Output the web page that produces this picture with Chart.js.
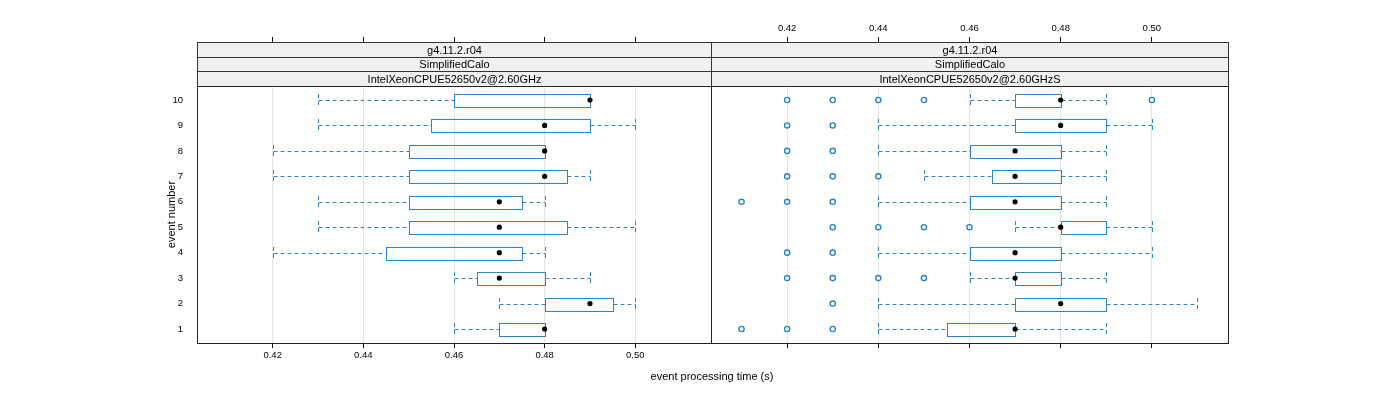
<!DOCTYPE html>
<html>
<head>
<meta charset="utf-8">
<script src="https://cdn.jsdelivr.net/npm/chart.js@4.4.1/dist/chart.umd.min.js"></script>
<style>
  body { margin: 0; background: #fff; }
  #wrap { position: relative; width: 1400px; height: 400px; background: #fff; }
  #wrap canvas { position: absolute; left: 0; top: 0; }
  #xtitle {
    position: absolute; left: 562px; width: 300px; top: 370px;
    text-align: center; font: 11px "Liberation Sans", Arial, sans-serif; color: #000;
  }
</style>
</head>
<body>
<div id="wrap">
  <canvas id="leftPanel" width="1400" height="400"></canvas>
  <canvas id="rightPanel" width="1400" height="400"></canvas>
  <div id="xtitle">event processing time (s)</div>
</div>
<script>
// ---------------- data ----------------
const events = [1, 2, 3, 4, 5, 6, 7, 8, 9, 10];
const xTicks = [0.42, 0.44, 0.46, 0.48, 0.50];

// panel 1: IntelXeonCPUE52650v2@2.60GHz
const lowA  = [0.46, 0.47, 0.46, 0.42, 0.43, 0.43, 0.42, 0.42, 0.43, 0.43];
const q1A   = [0.47, 0.48, 0.465, 0.445, 0.45, 0.45, 0.45, 0.45, 0.455, 0.46];
const medA  = [0.48, 0.49, 0.47, 0.47, 0.47, 0.47, 0.48, 0.48, 0.48, 0.49];
const q3A   = [0.48, 0.495, 0.48, 0.475, 0.485, 0.475, 0.485, 0.48, 0.49, 0.49];
const highA = [0.48, 0.50, 0.49, 0.48, 0.50, 0.48, 0.49, 0.48, 0.50, 0.49];
const outA  = [[], [], [], [], [], [], [], [], [], []];

// panel 2: IntelXeonCPUE52650v2@2.60GHzS
const lowB  = [0.44, 0.44, 0.46, 0.44, 0.47, 0.44, 0.45, 0.44, 0.44, 0.46];
const q1B   = [0.455, 0.47, 0.47, 0.46, 0.48, 0.46, 0.465, 0.46, 0.47, 0.47];
const medB  = [0.47, 0.48, 0.47, 0.47, 0.48, 0.47, 0.47, 0.47, 0.48, 0.48];
const q3B   = [0.47, 0.49, 0.48, 0.48, 0.49, 0.48, 0.48, 0.48, 0.49, 0.48];
const highB = [0.49, 0.51, 0.49, 0.50, 0.50, 0.49, 0.49, 0.49, 0.50, 0.49];
const outB  = [
  [0.41, 0.42, 0.43],
  [0.43],
  [0.42, 0.43, 0.44, 0.45],
  [0.42, 0.43],
  [0.43, 0.44, 0.45, 0.46],
  [0.41, 0.42, 0.43],
  [0.42, 0.43, 0.44],
  [0.42, 0.43],
  [0.42, 0.43],
  [0.42, 0.43, 0.44, 0.45, 0.50]
];

const stripA = ['g4.11.2.r04', 'SimplifiedCalo', 'IntelXeonCPUE52650v2@2.60GHz'];
const stripB = ['g4.11.2.r04', 'SimplifiedCalo', 'IntelXeonCPUE52650v2@2.60GHzS'];

const X_MIN = 0.4033, X_MAX = 0.5167;
const Y_MIN = 0.45, Y_MAX = 10.55;
const BLUE = '#2a86c4';
const FONT = '"Liberation Sans", Arial, sans-serif';

Chart.defaults.font.family = FONT;
Chart.defaults.color = '#000';

// ---------------- plugins ----------------
const boxPlugin = {
  id: 'boxes',
  beforeDatasetsDraw(chart, args, opts) {
    const { ctx, chartArea } = chart;
    const xs = chart.scales.x, ys = chart.scales.y;
    const h = Math.abs(ys.getPixelForValue(1) - ys.getPixelForValue(0)) * 0.5;
    const px = v => Math.round(xs.getPixelForValue(v)) + 0.5;
    ctx.save();
    ctx.beginPath();
    ctx.rect(chartArea.left, chartArea.top, chartArea.width, chartArea.height);
    ctx.clip();
    ctx.strokeStyle = BLUE;
    ctx.lineWidth = 1;
    opts.rows.forEach((row, i) => {
      const y = Math.round(ys.getPixelForValue(row)) + 0.5;
      const top = Math.round(y - h / 2), bot = Math.round(y + h / 2);
      const lo = px(opts.low[i]), a = px(opts.q1[i]), b = px(opts.q3[i]), hi = px(opts.high[i]);
      // whiskers
      ctx.setLineDash([4, 3]);
      ctx.beginPath();
      if (lo < a) {
        ctx.moveTo(lo, y); ctx.lineTo(a, y);
        ctx.moveTo(lo, top); ctx.lineTo(lo, bot);
      }
      if (hi > b) {
        ctx.moveTo(b, y); ctx.lineTo(hi, y);
        ctx.moveTo(hi, top); ctx.lineTo(hi, bot);
      }
      ctx.stroke();
      // box
      ctx.setLineDash([]);
      ctx.strokeRect(a, top + 0.5, b - a, bot - top);
    });
    ctx.restore();
  },
  afterDraw(chart, args, opts) {
    const { ctx, chartArea } = chart;
    const l = Math.round(chartArea.left) + 0.5, r = Math.round(chartArea.right) + 0.5;
    const t = Math.round(chartArea.top) + 0.5, b = Math.round(chartArea.bottom) + 0.5;
    ctx.save();
    // strips
    const sTop = 42, sH = (86 - 42) / 3;
    opts.strips.forEach((txt, k) => {
      const y0 = Math.round(sTop + k * sH) + 0.5;
      const y1 = Math.round(sTop + (k + 1) * sH) + 0.5;
      ctx.fillStyle = '#f0f0f0';
      ctx.fillRect(l, y0, r - l, y1 - y0);
      ctx.strokeStyle = '#333';
      ctx.lineWidth = 1;
      ctx.strokeRect(l, y0, r - l, y1 - y0);
      ctx.fillStyle = '#000';
      ctx.font = '11px ' + FONT;
      ctx.textAlign = 'center';
      ctx.textBaseline = 'middle';
      ctx.fillText(txt, (l + r) / 2, (y0 + y1) / 2 + 0.5);
    });
    // panel frame
    ctx.strokeStyle = '#222';
    ctx.strokeRect(l, t, r - l, b - t);
    ctx.restore();
  }
};

function setTicks(list) {
  return scale => { scale.ticks = list.map(v => ({ value: v })); };
}

function makePanel(canvasId, d) {
  const medPts = events.map((e, i) => ({ x: d.med[i], y: e }));
  const outPts = [];
  events.forEach((e, i) => d.out[i].forEach(v => outPts.push({ x: v, y: e })));

  return new Chart(document.getElementById(canvasId), {
    type: 'scatter',
    data: {
      datasets: [
        {
          label: 'outliers',
          data: outPts,
          pointRadius: 2.6,
          pointBackgroundColor: 'rgba(255,255,255,0)',
          pointBorderColor: BLUE,
          pointBorderWidth: 1.4
        },
        {
          label: 'median',
          data: medPts,
          pointRadius: 2.6,
          pointBackgroundColor: '#000',
          pointBorderWidth: 0
        }
      ]
    },
    options: {
      responsive: false,
      animation: false,
      devicePixelRatio: 1,
      layout: { padding: d.padding },
      plugins: {
        legend: { display: false },
        tooltip: { enabled: false },
        boxes: {
          rows: events, low: d.low, q1: d.q1, q3: d.q3, high: d.high,
          strips: d.strips
        }
      },
      scales: {
        x: {
          type: 'linear', position: 'bottom',
          min: X_MIN, max: X_MAX,
          afterBuildTicks: setTicks(xTicks),
          afterFit: s => { s.height = 57; },
          grid: { color: '#e6e6e6', tickColor: '#111', tickLength: 5 },
          border: { display: false },
          ticks: {
            display: d.bottomLabels, padding: 2,
            font: { size: 9.5 },
            callback: v => v.toFixed(2)
          }
        },
        x2: {
          type: 'linear', position: 'top',
          min: X_MIN, max: X_MAX,
          afterBuildTicks: setTicks(xTicks),
          afterFit: s => { s.height = 66; },
          grid: { drawOnChartArea: false, tickColor: '#111', tickLength: 49 },
          border: { display: false },
          ticks: {
            display: d.topLabels, padding: 3,
            font: { size: 9.5 },
            callback: v => v.toFixed(2)
          }
        },
        y: {
          type: 'linear',
          display: d.yAxis,
          min: Y_MIN, max: Y_MAX,
          afterBuildTicks: setTicks(events),
          afterFit: s => { s.width = d.yAxis ? 36 : 0; },
          grid: { display: false },
          border: { display: false },
          ticks: { padding: 6, font: { size: 9.5 } },
          title: {
            display: true, text: 'event number',
            font: { size: 11 }, padding: { top: 4, bottom: 4 }
          }
        }
      }
    },
    plugins: [boxPlugin]
  });
}

makePanel('leftPanel', {
  low: lowA, q1: q1A, med: medA, q3: q3A, high: highA, out: outA,
  strips: stripA, bottomLabels: true, topLabels: false, yAxis: true,
  padding: { left: 161, right: 689, top: 20, bottom: 0 }
});

makePanel('rightPanel', {
  low: lowB, q1: q1B, med: medB, q3: q3B, high: highB, out: outB,
  strips: stripB, bottomLabels: false, topLabels: true, yAxis: false,
  padding: { left: 711, right: 172, top: 20, bottom: 0 }
});
</script>
</body>
</html>
